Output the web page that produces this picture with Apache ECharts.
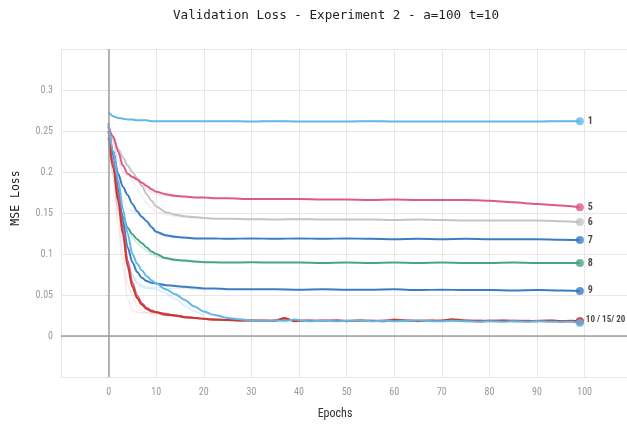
<!DOCTYPE html>
<html>
<head>
<meta charset="utf-8">
<script src="https://cdn.jsdelivr.net/npm/echarts@6/dist/echarts.min.js"></script>
<style>
html,body{margin:0;padding:0;background:#fff;}
#chart{width:627px;height:427px;}
</style>
</head>
<body>
<div id="chart"></div>
<script>
// ---------- data ----------
const titleText = 'Validation Loss - Experiment 2 - a=100 t=10';
const xTitle = 'Epochs';
const yTitle = 'MSE Loss';

const epochs = [0,1,2,3,4,5,6,7,8,9,10,12,14,16,18,20,22,25,30,35,40,45,50,55,60,65,70,75,80,85,90,95,99];
const run1 = [0.273,0.268,0.266,0.265,0.264,0.264,0.263,0.263,0.263,0.262,0.262,0.262,0.262,0.262,0.262,0.262,0.262,0.262,0.2615,0.262,0.2615,0.2615,0.2615,0.262,0.2615,0.2615,0.2615,0.2615,0.2615,0.2615,0.2615,0.262,0.262];
const run5 = [0.255,0.243,0.225,0.208,0.198,0.194,0.191,0.187,0.183,0.179,0.176,0.173,0.171,0.170,0.169,0.169,0.168,0.168,0.167,0.167,0.167,0.1665,0.1665,0.166,0.1665,0.166,0.166,0.166,0.165,0.163,0.161,0.159,0.157];
const run6 = [0.255,0.240,0.228,0.218,0.208,0.200,0.192,0.183,0.173,0.165,0.158,0.151,0.148,0.146,0.145,0.144,0.143,0.143,0.1425,0.142,0.1425,0.142,0.142,0.142,0.1415,0.142,0.1415,0.141,0.141,0.141,0.141,0.140,0.139];
const run7 = [0.255,0.225,0.198,0.182,0.172,0.161,0.152,0.145,0.140,0.133,0.127,0.123,0.121,0.120,0.119,0.119,0.119,0.1185,0.119,0.1185,0.119,0.1185,0.119,0.1185,0.118,0.1185,0.118,0.1185,0.118,0.118,0.118,0.1175,0.117];
const run8 = [0.250,0.210,0.168,0.145,0.132,0.124,0.118,0.113,0.108,0.103,0.100,0.095,0.093,0.092,0.091,0.090,0.090,0.0895,0.090,0.0895,0.0895,0.089,0.0895,0.089,0.0895,0.089,0.0895,0.089,0.089,0.0895,0.089,0.089,0.089];
const run9 = [0.258,0.220,0.180,0.140,0.108,0.090,0.078,0.071,0.067,0.065,0.064,0.062,0.061,0.060,0.059,0.058,0.058,0.057,0.057,0.057,0.0565,0.057,0.0565,0.0565,0.057,0.056,0.0565,0.056,0.056,0.0555,0.056,0.0555,0.055];

const epochsLow = [0,1,2,3,4,5,6,7,8,9,10,12,14,16,18,20,22,25,28,30,33,35,37,39,42,45,48,50,53,55,58,60,63,65,68,70,72,75,78,80,83,85,88,90,93,95,97,99];
const run10 = [0.242,0.205,0.165,0.125,0.085,0.060,0.046,0.038,0.033,0.030,0.029,0.026,0.025,0.023,0.022,0.021,0.020,0.0195,0.019,0.019,0.0185,0.019,0.022,0.018,0.019,0.0185,0.019,0.018,0.019,0.0185,0.018,0.0195,0.019,0.018,0.019,0.0185,0.0205,0.019,0.018,0.0185,0.019,0.018,0.0185,0.018,0.019,0.018,0.0185,0.018];
const run15 = [0.250,0.212,0.172,0.132,0.092,0.065,0.049,0.040,0.034,0.031,0.029,0.027,0.025,0.023,0.022,0.021,0.020,0.0195,0.019,0.019,0.019,0.0185,0.021,0.019,0.0185,0.019,0.019,0.0185,0.019,0.0185,0.019,0.020,0.0185,0.019,0.0185,0.019,0.0195,0.0185,0.019,0.0185,0.0185,0.019,0.018,0.0185,0.0185,0.018,0.018,0.018];
const run20 = [0.260,0.225,0.190,0.155,0.125,0.100,0.088,0.080,0.073,0.068,0.064,0.057,0.051,0.044,0.036,0.030,0.026,0.022,0.020,0.019,0.0185,0.019,0.0185,0.020,0.018,0.0185,0.018,0.0185,0.019,0.018,0.0185,0.018,0.0185,0.019,0.018,0.018,0.0185,0.018,0.0175,0.018,0.0175,0.018,0.0175,0.018,0.0175,0.017,0.0175,0.016];

// raw (unsmoothed) early values, drawn faintly
const epochsRaw = [0,1,2,3,4,5,6,7,8,9,10,12,14,16,18,20];
const raw5  = [0.255,0.236,0.214,0.200,0.196,0.193,0.189,0.184,0.179,0.175,0.173,0.171,0.170,0.169,0.169,0.168];
const raw6  = [0.255,0.232,0.215,0.206,0.198,0.190,0.180,0.170,0.162,0.156,0.152,0.148,0.146,0.145,0.144,0.143];
const raw7  = [0.255,0.215,0.185,0.165,0.155,0.152,0.150,0.146,0.139,0.131,0.125,0.121,0.120,0.119,0.119,0.119];
const raw8  = [0.250,0.195,0.155,0.136,0.128,0.120,0.113,0.108,0.104,0.100,0.097,0.094,0.092,0.091,0.090,0.090];
const raw9  = [0.258,0.205,0.160,0.120,0.090,0.074,0.066,0.062,0.060,0.059,0.059,0.058,0.058,0.058,0.057,0.057];
const raw20 = [0.260,0.210,0.160,0.120,0.092,0.074,0.064,0.060,0.058,0.058,0.057,0.052,0.045,0.037,0.030,0.025];
const raw10 = [0.242,0.190,0.135,0.085,0.045,0.031,0.029,0.028,0.028,0.027,0.027,0.025,0.024,0.023,0.022,0.021];
const raw15 = [0.248,0.200,0.150,0.100,0.062,0.050,0.036,0.030,0.029,0.028,0.027,0.025,0.024,0.023,0.022,0.021];

const endLabels = ['1','5','6','7','8','9','','','10 / 15/ 20'];
const xTicks = [0,10,20,30,40,50,60,70,80,90,100];
const yTicks = [0,0.05,0.1,0.15,0.2,0.25,0.3];

// ---------- chart ----------
const C = {
  lb:'#5fb8e8', pink:'#e0588b', gray:'#c4c4c4', blue:'#3b7cc4', teal:'#4aa38b', red:'#c73b2c'
};
const zip = (xs, ys) => xs.map((x,i)=>[x, ys[i]]);

function line(name, xs, ys, color, opts) {
  opts = opts || {};
  return Object.assign({
    name, type:'line', data: zip(xs, ys), showSymbol:false, symbol:'none',
    smooth:0.3, smoothMonotone:'x', silent:true, animation:false,
    lineStyle:{color, width:2, opacity:1}, z:3
  }, opts);
}
function faint(name, xs, ys, color) {
  return line(name, xs, ys, color, {lineStyle:{color, width:1.5, opacity:0.25}, z:2});
}

const mainRuns = [
  ['1', epochs, run1, C.lb],
  ['5', epochs, run5, C.pink],
  ['6', epochs, run6, C.gray],
  ['7', epochs, run7, C.blue],
  ['8', epochs, run8, C.teal],
  ['9', epochs, run9, C.blue],
  ['10', epochsLow, run10, C.red],
  ['15', epochsLow, run15, C.pink],
  ['20', epochsLow, run20, C.lb]
];

const series = [];
// zero reference lines
series.push({
  type:'line', data:[], silent:true, animation:false,
  markLine:{
    silent:true, symbol:'none', animation:false, label:{show:false},
    lineStyle:{color:'#9e9e9e', width:1.5, type:'solid'},
    data:[{yAxis:0},{xAxis:0}]
  }
});
series.push(faint('r5', epochsRaw, raw5, '#f0a0bd'));
series.push(faint('r6', epochsRaw, raw6, C.gray));
series.push(faint('r7', epochsRaw, raw7, '#8cc4ea'));
series.push(faint('r8', epochsRaw, raw8, C.teal));
series.push(faint('r9', epochsRaw, raw9, '#8cc4ea'));
series.push(faint('r20', epochsRaw, raw20, C.lb));
series.push(faint('r10', epochsRaw, raw10, '#f0a0a8'));
series.push(faint('r15', epochsRaw, raw15, '#f0a0bd'));

const drawOrder = [2,4,3,5,1,0,7,6,8];
drawOrder.forEach(i => {
  const r = mainRuns[i];
  series.push(line(r[0], r[1], r[2], r[3]));
});

// end markers with labels
const labelFont = "'Liberation Sans Narrow','Roboto Condensed','Liberation Sans',sans-serif";
drawOrder.forEach(i => {
  const r = mainRuns[i];
  const xs = r[1], ys = r[2];
  const last = i === 8;
  series.push({
    type:'scatter', silent:true, animation:false, z:5,
    symbol:'circle', symbolSize:8,
    itemStyle:{color:r[3]},
    data:[[xs[xs.length-1], ys[ys.length-1]]],
    label:{
      show: endLabels[i] !== '', formatter: endLabels[i], position:'right', distance: last ? 2 : 4,
      color:'#1a1a1a', fontSize: last ? 9 : 10, fontWeight:'bold',
      fontFamily:labelFont,
      offset: last ? [0,-3] : [0,0]
    }
  });
});

const tickFont = "'Liberation Sans Narrow','Roboto Condensed','Liberation Sans',sans-serif";
const option = {
  backgroundColor:'#fff',
  animation:false,
  grid:{left:61, right:0, top:49, bottom:50, containLabel:false},
  xAxis:{
    type:'value', min:-10, max:108.9, interval:10,
    axisLine:{show:true, lineStyle:{color:'#dcdcdc', width:1}},
    axisTick:{show:true, length:4, lineStyle:{color:'#dcdcdc'}},
    splitLine:{show:true, lineStyle:{color:'#e8e8e8', width:1}},
    axisLabel:{
      color:'#9a9a9a', fontSize:10, fontFamily:tickFont, margin:10, showMaxLabel:false,
      formatter: v => xTicks.includes(v) ? String(v) : ''
    }
  },
  yAxis:{
    type:'value', min:-0.05, max:0.35, interval:0.05,
    axisLine:{show:false},
    axisTick:{show:true, length:3, lineStyle:{color:'#dcdcdc'}},
    splitLine:{show:true, lineStyle:{color:'#e8e8e8', width:1}},
    axisLabel:{
      color:'#9a9a9a', fontSize:10, fontFamily:tickFont, margin:8,
      formatter: v => {
        const r = Math.round(v*100)/100;
        return yTicks.some(t => Math.abs(t-r) < 1e-9) ? String(r) : '';
      }
    }
  },
  graphic:[
    {type:'text', x:336, y:16, style:{text:titleText, fontFamily:"'DejaVu Sans Mono',monospace", fontSize:12.6, fill:'#222', textAlign:'center', textVerticalAlign:'middle'}},
    {type:'text', x:16, y:198, rotation:Math.PI/2, style:{text:yTitle, fontFamily:"'DejaVu Sans Mono',monospace", fontSize:11.5, fill:'#222', textAlign:'center', textVerticalAlign:'middle'}},
    {type:'text', x:335, y:414, style:{text:xTitle, fontFamily:"'Liberation Sans Narrow','Roboto Condensed','Open Sans',sans-serif", fontSize:12, fill:'#333', textAlign:'center', textVerticalAlign:'middle'}}
  ],
  series
};

const chart = echarts.init(document.getElementById('chart'), null, {renderer:'canvas'});
chart.setOption(option);
</script>
</body>
</html>
